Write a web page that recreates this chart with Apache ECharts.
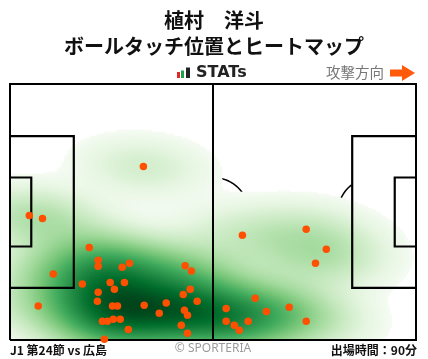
<!DOCTYPE html>
<html><head><meta charset="utf-8">
<script src="https://cdn.jsdelivr.net/npm/echarts@6/dist/echarts.min.js"></script>
<style>html,body{margin:0;padding:0;background:#fff}#c{width:428px;height:359px}</style>
</head><body><div id="c"></div>
<script>
// ---- texts ----
const playerName = '植村　洋斗';
const chartTitle = 'ボールタッチ位置とヒートマップ';
const matchLabel = 'J1 第24節 vs 広島';
const minutesLabel = '出場時間：90分';
const directionLabel = '攻撃方向';
const brandLabel = 'STATs';
const creditLabel = '© SPORTERIA';

// ---- ball touches, pitch metres (x: 0 → 105 attacking to the right, y: 0 bottom touchline → 68) ----
const touchX = [20.5, 22.8, 22.8, 30.9, 29.0, 18.7, 25.9, 29.6, 27.0, 22.8, 22.6, 26.5, 27.8, 23.9, 25.2, 26.7, 28.5, 30.6, 24.4,
                45.3, 46.9, 46.6, 44.8, 48.4, 34.7, 40.4, 38.6, 45.1, 45.9, 44.3, 45.9,
                63.4, 55.9, 66.3, 72.2, 55.9, 58.0, 61.6, 59.3, 76.6,
                34.5, 5.0, 8.4, 11.2, 7.3, 60.1, 76.6, 81.8, 79.0];
const touchY = [24.6, 21.2, 19.6, 20.4, 19.3, 14.9, 15.3, 15.3, 13.5, 12.7, 10.3, 9.0, 9.0, 5.0, 5.0, 5.5, 5.5, 2.8, 0.2,
                19.7, 18.3, 13.5, 12.1, 10.3, 9.2, 9.8, 7.1, 7.9, 6.6, 3.9, 1.8,
                11.1, 8.4, 7.6, 8.7, 5.0, 3.9, 5.0, 2.6, 5.0,
                46.1, 33.1, 32.3, 17.5, 9.0, 27.8, 29.4, 24.1, 20.4];

// ---- pitch geometry (metres) ----
const PL = 105, PW = 68;
const BOX_D = 16.5, BOX_W = 40.32, GA_D = 5.5, GA_W = 18.32, CIRC_R = 9.15, SPOT = 11;
// heat layer rendering settings
const BW_ADJUST = 1.0, LEVEL_FRAC = 0.15, GAMMA = 0.6;

// ---- Gaussian KDE (Scott bandwidth, full covariance) of the touches ----
function buildKde(xs, ys) {
  const n = xs.length;
  let mx = 0, my = 0;
  for (let i = 0; i < n; i++) { mx += xs[i]; my += ys[i]; }
  mx /= n; my /= n;
  let sxx = 0, syy = 0, sxy = 0;
  for (let i = 0; i < n; i++) {
    const dx = xs[i] - mx, dy = ys[i] - my;
    sxx += dx * dx; syy += dy * dy; sxy += dx * dy;
  }
  sxx /= (n - 1); syy /= (n - 1); sxy /= (n - 1);
  const f2 = Math.pow(n, -1 / 3) * BW_ADJUST * BW_ADJUST;
  const a = sxx * f2, b = sxy * f2, d = syy * f2;
  const det = a * d - b * b;
  const ia = d / det, ib = -b / det, id = a / det;
  const norm = 1 / (n * 2 * Math.PI * Math.sqrt(det));
  return {
    norm,
    at(x, y) {
      let s = 0;
      for (let i = 0; i < n; i++) {
        const dx = x - xs[i], dy = y - ys[i];
        s += Math.exp(-0.5 * (ia * dx * dx + 2 * ib * dx * dy + id * dy * dy));
      }
      return s * norm;
    }
  };
}
const kde = buildKde(touchX, touchY);
// lowest filled level, relative to the peak of a single touch's kernel
const level = LEVEL_FRAC * kde.norm;

const NX = 203, NY = 128;
const binX = [], binY = [];
for (let i = 0; i < NX; i++) binX.push(i);
for (let j = 0; j < NY; j++) binY.push(j);
const dens = [];
let peak = 0;
for (let i = 0; i < NX; i++) {
  const x = (i + 0.5) * PL / NX;
  for (let j = 0; j < NY; j++) {
    const y = (j + 0.5) * PW / NY;
    const v = kde.at(x, y);
    if (v > peak) peak = v;
    dens.push([i, j, v]);
  }
}
const cells = dens.filter(c => c[2] >= level)
  .map(c => [c[0], c[1], Math.pow((c[2] - level) / (peak - level), GAMMA)]);
const touches = touchX.map((x, i) => [x, touchY[i]]);

const greens = ['#f7fcf5', '#e5f5e0', '#c7e9c0', '#a1d99b', '#74c476', '#41ab5d', '#238b45', '#006d2c', '#00441b'];

function arcPts(cx, cy, r, keep) {
  const pts = [];
  for (let k = 0; k <= 180; k++) {
    const t = k / 180 * 2 * Math.PI;
    const p = [cx + r * Math.cos(t), cy + r * Math.sin(t)];
    pts.push(keep(p) ? p : null);
  }
  const runs = []; let cur = [];
  pts.forEach(p => { if (p) cur.push(p); else { if (cur.length > 1) runs.push(cur); cur = []; } });
  if (cur.length > 1) runs.push(cur);
  return runs;
}

function renderCircles(params, api) {
  const runs = [].concat(
    arcPts(PL / 2, PW / 2, CIRC_R, () => true),
    arcPts(SPOT, PW / 2, CIRC_R, p => p[0] > BOX_D),
    arcPts(PL - SPOT, PW / 2, CIRC_R, p => p[0] < PL - BOX_D)
  );
  return {
    type: 'group',
    children: runs.map(r => ({
      type: 'polyline', shape: { points: r.map(p => api.coord(p)) },
      style: { stroke: '#000', lineWidth: 1.5, fill: 'none' }
    }))
  };
}
function renderLines(params, api) {
  const c = p => api.coord(p);
  const poly = (pts, w) => ({ type: 'polyline', shape: { points: pts.map(c) }, style: { stroke: '#000', lineWidth: w, fill: 'none', lineJoin: 'miter' } });
  const y0 = (PW - BOX_W) / 2, y1 = (PW + BOX_W) / 2, g0 = (PW - GA_W) / 2, g1 = (PW + GA_W) / 2;
  return {
    type: 'group',
    children: [
      poly([[0, y0], [BOX_D, y0], [BOX_D, y1], [0, y1]], 2.2),
      poly([[0, g0], [GA_D, g0], [GA_D, g1], [0, g1]], 2.2),
      poly([[PL, y0], [PL - BOX_D, y0], [PL - BOX_D, y1], [PL, y1]], 2.2),
      poly([[PL, g0], [PL - GA_D, g0], [PL - GA_D, g1], [PL, g1]], 2.2),
      poly([[PL / 2, 0], [PL / 2, PW]], 2),
      poly([[0, 0], [PL, 0], [PL, PW], [0, PW], [0, 0]], 2)
    ]
  };
}

const chart = echarts.init(document.getElementById('c'), null, { renderer: 'canvas' });
const JP = '"Noto Sans CJK JP", "Noto Sans", sans-serif';
chart.setOption({
  animation: false,
  backgroundColor: '#fff',
  grid: [
    { left: 10, top: 84, width: 406, height: 256 },
    { left: 10, top: 84, width: 406, height: 256 }
  ],
  xAxis: [
    { type: 'value', gridIndex: 0, min: 0, max: PL, show: false },
    { type: 'category', gridIndex: 1, data: binX, show: false }
  ],
  yAxis: [
    { type: 'value', gridIndex: 0, min: 0, max: PW, show: false },
    { type: 'category', gridIndex: 1, data: binY, show: false }
  ],
  visualMap: {
    type: 'continuous', show: false, seriesIndex: 1, dimension: 2,
    min: 0, max: 1, inRange: { color: greens }
  },
  series: [
    { type: 'custom', xAxisIndex: 0, yAxisIndex: 0, z: 1, silent: true, data: [[0, 0]], renderItem: renderCircles },
    { type: 'heatmap', xAxisIndex: 1, yAxisIndex: 1, z: 2, silent: true, progressive: 0, data: cells,
      emphasis: { disabled: true } },
    { type: 'custom', xAxisIndex: 0, yAxisIndex: 0, z: 3, silent: true, data: [[0, 0]], renderItem: renderLines },
    { type: 'scatter', xAxisIndex: 0, yAxisIndex: 0, z: 4, silent: true, clip: true, data: touches,
      symbol: 'circle', symbolSize: 7.5, itemStyle: { color: '#ff5000', opacity: 1 } }
  ],
  graphic: [
    { type: 'text', z: 10, style: { x: 214, y: 20, text: playerName, font: 'bold 20px ' + JP, fill: '#111', align: 'center', verticalAlign: 'middle' } },
    { type: 'text', z: 10, style: { x: 214, y: 46, text: chartTitle, font: 'bold 20px ' + JP, fill: '#111', align: 'center', verticalAlign: 'middle' } },
    { type: 'rect', z: 10, shape: { x: 177, y: 72, width: 3, height: 6 }, style: { fill: '#e3262b' } },
    { type: 'rect', z: 10, shape: { x: 181, y: 70.5, width: 3, height: 7.5 }, style: { fill: '#1ba345' } },
    { type: 'rect', z: 10, shape: { x: 186, y: 67.5, width: 4, height: 10.5 }, style: { fill: '#222' } },
    { type: 'text', z: 10, style: { x: 196, y: 73, text: brandLabel, font: 'bold 16px "DejaVu Sans"', fill: '#222', verticalAlign: 'middle' } },
    { type: 'text', z: 10, style: { x: 384, y: 72.5, text: directionLabel, font: '14.5px ' + JP, fill: '#777', align: 'right', verticalAlign: 'middle' } },
    { type: 'polygon', z: 10, shape: { points: [[390, 69.5], [402, 69.5], [402, 65], [415, 73], [402, 81], [402, 76.5], [390, 76.5]] }, style: { fill: '#ff5a0a' } },
    { type: 'text', z: 10, style: { x: 10, y: 350, text: matchLabel, font: 'bold 12px ' + JP, fill: '#111', verticalAlign: 'middle' } },
    { type: 'text', z: 10, style: { x: 213, y: 349, text: creditLabel, font: '12px "Noto Sans"', fill: '#9a9a9a', align: 'center', verticalAlign: 'middle' } },
    { type: 'text', z: 10, style: { x: 417, y: 350, text: minutesLabel, font: 'bold 12px ' + JP, fill: '#111', align: 'right', verticalAlign: 'middle' } }
  ]
});
</script>
</body></html>
